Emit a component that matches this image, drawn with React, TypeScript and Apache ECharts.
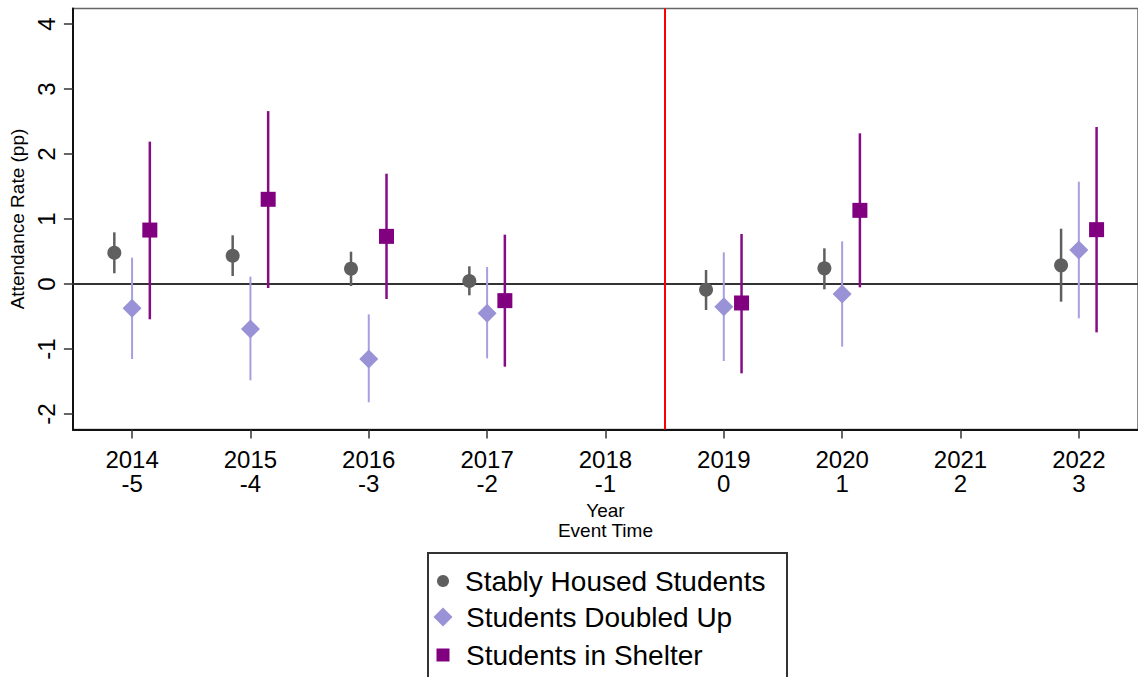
import React, { useEffect, useRef } from "react";
import * as echarts from "echarts";

// Axis ticks / labels
const years = [2014, 2015, 2016, 2017, 2018, 2019, 2020, 2021, 2022];
const eventTimes = [-5, -4, -3, -2, -1, 0, 1, 2, 3];
const yTicks = [-2, -1, 0, 1, 2, 3, 4];
const treatmentLine = 2018.5;

// Years with estimates
const estYears = [2014, 2015, 2016, 2017, 2019, 2020, 2022];

// Stably Housed Students
const stablyCoef = [0.48, 0.435, 0.236, 0.046, -0.087, 0.241, 0.287];
const stablyLo = [0.165, 0.123, -0.031, -0.174, -0.4, -0.082, -0.272];
const stablyHi = [0.795, 0.749, 0.497, 0.272, 0.215, 0.549, 0.851];

// Students Doubled Up
const doubledCoef = [-0.374, -0.692, -1.154, -0.451, -0.349, -0.154, 0.523];
const doubledLo = [-1.154, -1.482, -1.82, -1.144, -1.185, -0.964, -0.528];
const doubledHi = [0.405, 0.113, -0.467, 0.262, 0.487, 0.656, 1.574];

// Students in Shelter
const shelterCoef = [0.83, 1.303, 0.733, -0.256, -0.292, 1.133, 0.836];
const shelterLo = [-0.543, -0.062, -0.231, -1.272, -1.374, -0.051, -0.744];
const shelterHi = [2.19, 2.66, 1.697, 0.759, 0.769, 2.318, 2.415];

const FONT = "'Liberation Sans', Arial, Helvetica, sans-serif";

const groups = [
  {
    name: "Stably Housed Students",
    coef: stablyCoef,
    lo: stablyLo,
    hi: stablyHi,
    offset: -0.15,
    symbol: "circle",
    size: 14,
    color: "#5f5f5f",
    ciColor: "#5f5f5f",
    ciWidth: 2.5,
    legendSize: 12,
    legendTop: 566,
    legendPad: 11,
  },
  {
    name: "Students Doubled Up",
    coef: doubledCoef,
    lo: doubledLo,
    hi: doubledHi,
    offset: 0,
    symbol: "diamond",
    size: 19,
    color: "#9992d6",
    ciColor: "#a6a0e2",
    ciWidth: 2,
    legendSize: 19,
    legendTop: 602,
    legendPad: 8.5,
  },
  {
    name: "Students in Shelter",
    coef: shelterCoef,
    lo: shelterLo,
    hi: shelterHi,
    offset: 0.15,
    symbol: "rect",
    size: 15,
    color: "#800080",
    ciColor: "#860c86",
    ciWidth: 2.5,
    legendSize: 13,
    legendTop: 640,
    legendPad: 11.5,
  },
];

export default function App() {
  const ref = useRef<HTMLDivElement>(null);

  useEffect(() => {
    if (!ref.current) return;
    const chart = echarts.init(ref.current, undefined, { renderer: "svg" });

    const series: any[] = [];
    groups.forEach((g, gi) => {
      series.push({
        type: "custom",
        name: g.name + " CI",
        z: 6,
        encode: { x: 0, y: [1, 2] },
        data: estYears.map((yr, i) => [yr + g.offset, g.lo[i], g.hi[i]]),
        renderItem: (params: any, api: any) => {
          const x = api.value(0);
          const p1 = api.coord([x, api.value(1)]);
          const p2 = api.coord([x, api.value(2)]);
          return {
            type: "line",
            shape: { x1: p1[0], y1: p1[1], x2: p2[0], y2: p2[1] },
            style: { stroke: g.ciColor, lineWidth: g.ciWidth },
          };
        },
        ...(gi === 0
          ? {
              markLine: {
                silent: true,
                symbol: "none",
                label: { show: false },
                emphasis: { disabled: true },
                data: [
                  { yAxis: 0, lineStyle: { color: "#333333", width: 2, type: "solid" } },
                  { xAxis: treatmentLine, lineStyle: { color: "#ff0000", width: 2, type: "solid" } },
                ],
              },
            }
          : {}),
      });
      series.push({
        type: "scatter",
        name: g.name,
        z: 7,
        symbol: g.symbol,
        symbolSize: g.size,
        itemStyle: { color: g.color, opacity: 1 },
        data: estYears.map((yr, i) => [yr + g.offset, g.coef[i]]),
      });
    });

    const legends = groups.map((g) => ({
      show: true,
      orient: "horizontal",
      left: 443 - g.legendSize / 2,
      top: g.legendTop,
      padding: 0,
      itemWidth: g.legendSize,
      itemHeight: g.legendSize,
      selectedMode: false,
      data: [{ name: g.name, icon: g.symbol, itemStyle: { color: g.color } }],
      textStyle: {
        fontSize: 28,
        lineHeight: 30,
        color: "#000",
        fontFamily: FONT,
        padding: [0, 0, 0, g.legendPad],
      },
    }));

    chart.setOption({
      animation: false,
      backgroundColor: "#ffffff",
      textStyle: { fontFamily: FONT },
      grid: {
        left: 72.5,
        top: 8.4,
        width: 1071.3,
        height: 421.2,
        show: true,
        borderColor: "#666666",
        borderWidth: 1.5,
        backgroundColor: "transparent",
      },
      xAxis: {
        type: "value",
        min: 2013.5,
        max: 2022.5,
        splitLine: { show: false },
        axisLine: { show: true, onZero: false, lineStyle: { color: "#111111", width: 2 } },
        axisTick: {
          show: true,
          customValues: years,
          length: 9,
          lineStyle: { color: "#333333", width: 1.5 },
        },
        axisLabel: {
          customValues: years,
          formatter: (v: number) => {
            const i = years.indexOf(Math.round(v));
            return i >= 0 ? `${years[i]}\n${eventTimes[i]}` : "";
          },
          fontSize: 24,
          lineHeight: 24,
          margin: 18,
          color: "#000",
          fontFamily: FONT,
        },
        name: "Year\nEvent Time",
        nameLocation: "middle",
        nameGap: 70,
        nameTextStyle: { fontSize: 19, lineHeight: 20, color: "#000", fontFamily: FONT },
      },
      yAxis: {
        type: "value",
        min: -2.24,
        max: 4.24,
        splitLine: { show: false },
        axisLine: { show: true, onZero: false, lineStyle: { color: "#111111", width: 2 } },
        axisTick: {
          show: true,
          customValues: yTicks,
          length: 9,
          lineStyle: { color: "#333333", width: 1.5 },
        },
        axisLabel: {
          customValues: yTicks,
          rotate: 90,
          fontSize: 24,
          margin: 14,
          color: "#000",
          fontFamily: FONT,
        },
        name: "Attendance Rate (pp)",
        nameLocation: "middle",
        nameGap: 44,
        nameTextStyle: { fontSize: 19, color: "#000", fontFamily: FONT },
      },
      legend: legends,
      graphic: [
        {
          type: "rect",
          shape: { x: 428, y: 553, width: 359, height: 160 },
          style: { fill: "none", stroke: "#333333", lineWidth: 2 },
          z: 0,
          silent: true,
        },
      ],
      series,
    });

    return () => chart.dispose();
  }, []);

  return (
    <div
      ref={ref}
      style={{ position: "absolute", left: 0, top: 0, width: 1138, height: 677, overflow: "hidden" }}
    />
  );
}
